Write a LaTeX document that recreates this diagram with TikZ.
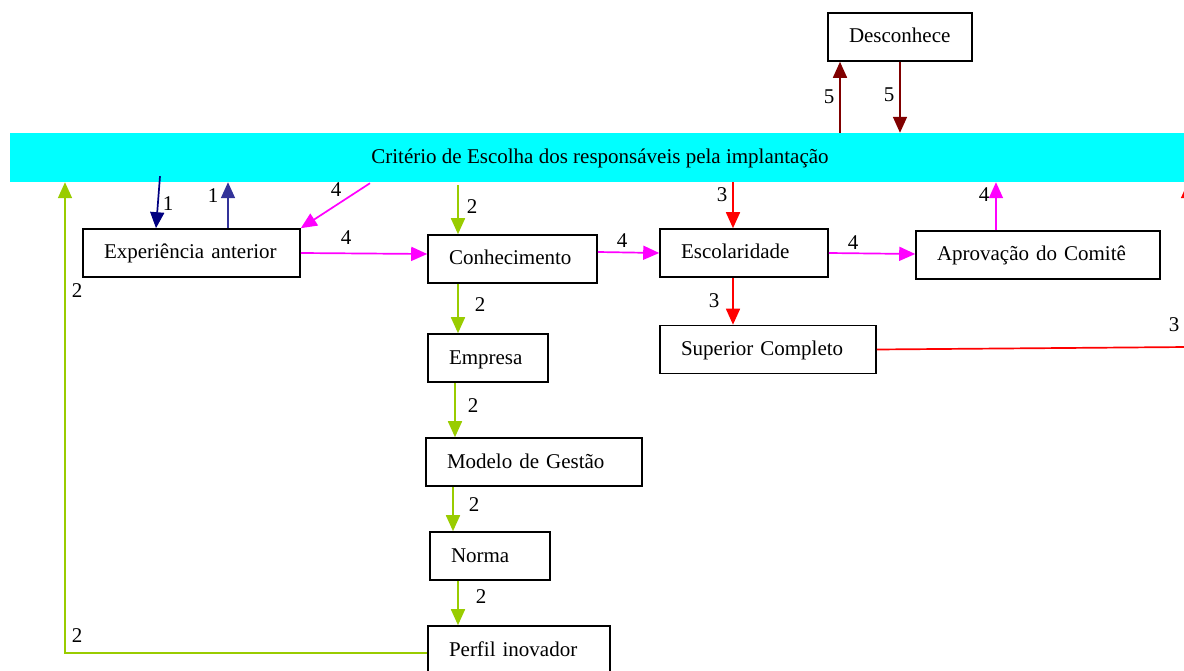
\documentclass[tikz,border=0pt]{standalone}
\usepackage{fontspec}
\setmainfont{Liberation Serif}
\usetikzlibrary{arrows.meta,calc}
\definecolor{cyanb}{HTML}{00FFFF}
\definecolor{navyc}{HTML}{000080}
\definecolor{bluec}{HTML}{333399}
\definecolor{magc}{HTML}{FF00FF}
\definecolor{grc}{HTML}{99CC00}
\definecolor{redc}{HTML}{FF0000}
\definecolor{drc}{HTML}{800000}
\tikzset{
  box/.style={draw=black, line width=1.6pt, fill=white, minimum height=48pt,
    inner xsep=21pt, inner ysep=0pt, align=left, text height=16pt, text depth=4pt,
    font=\fontsize{21}{25}\selectfont},
  lbl/.style={inner sep=0pt, font=\fontsize{21}{25}\selectfont},
  edge/.style={line width=1.7pt, -{Triangle[length=16pt,width=14pt]}},
  plain/.style={line width=1.7pt}
}
\begin{document}
\begin{tikzpicture}[x=1pt,y=-1pt]
\useasboundingbox (0,0) rectangle (1184,671);
\clip (0,0) rectangle (1184,671);
% banner
\node[fill=cyanb, minimum width=1180pt, minimum height=49pt, inner sep=0pt,
  text height=16pt, text depth=4pt, font=\fontsize{21}{25}\selectfont]
  (crit) at (600,157.5) {Critério de Escolha dos responsáveis pela implantação};
% boxes
\node[box, text width=102pt] (des) at (900,37) {Desconhece};
\node[box, text width=175pt] (exp) at (191.5,253) {Experiência anterior};
\node[box, text width=127pt] (con) at (512.5,259) {Conhecimento};
\node[box, text width=126pt] (esc) at (744,253) {Escolaridade};
\node[box, text width=202pt] (apr) at (1038,255) {Aprovação do Comitê};
\node[box, text width=174pt] (sup) at (768,349.5) {Superior Completo};
\node[box, text width=78pt] (emp) at (488,358) {Empresa};
\node[box, text width=174pt] (mod) at (534,462) {Modelo de Gestão};
\node[box, text width=78pt] (nor) at (490,556) {Norma};
\node[box, text width=140pt] (per) at (519,650) {Perfil inovador};
\coordinate (rc) at (1188,347);
\coordinate (gc) at (65,653);
% dark red
\draw[edge, drc] (crit.north -| 840,0) -- (des.south -| 840,0) node[lbl, black] at (829,97) {5};
\draw[edge, drc] (des.south -| 900,0) -- (crit.north -| 900,0) node[lbl, black] at (889,95) {5};
% experiencia
\draw[edge, navyc] ([yshift=6pt]crit.south -| 160,0) -- (exp.north -| 156,0) node[lbl, black] at (168,204) {1};
\draw[edge, bluec] (exp.north -| 228,0) -- (crit.south -| 228,0) node[lbl, black] at (213,196) {1};
\draw[edge, magc] ([yshift=-1pt]crit.south -| 370,0) -- (exp.north east) node[lbl, black] at (336,190) {4};
\draw[edge, magc] (exp.east) -- (con.west |- 0,254) node[lbl, black] at (346,238) {4};
% conhecimento chain
\draw[edge, grc] ([yshift=-3pt]crit.south -| 458,0) -- (con.north -| 458,0) node[lbl, black] at (472,207) {2};
\draw[edge, grc] (con.south -| 458,0) -- (emp.north -| 458,0) node[lbl, black] at (480,305) {2};
\draw[edge, grc] (emp.south -| 455,0) -- (mod.north -| 455,0) node[lbl, black] at (473,406) {2};
\draw[edge, grc] (mod.south -| 453,0) -- (nor.north -| 453,0) node[lbl, black] at (474,505) {2};
\draw[edge, grc] (nor.south -| 458,0) -- (per.north -| 458,0) node[lbl, black] at (481,597) {2};
\draw[edge, grc] (per.west |- gc) -- (gc) -- (crit.south -| gc)
  node[lbl, black] at (77,291) {2} node[lbl, black] at (77,636) {2};
% escolaridade
\draw[edge, magc] (con.east |- 0,252) -- (esc.west) node[lbl, black] at (622,241) {4};
\draw[edge, redc] (crit.south -| 733,0) -- (esc.north -| 733,0) node[lbl, black] at (722,195) {3};
\draw[edge, magc] (esc.east) -- (apr.west |- 0,254) node[lbl, black] at (853,243) {4};
\draw[edge, magc] (apr.north -| 996,0) -- (crit.south -| 996,0) node[lbl, black] at (984,195) {4};
\draw[edge, redc] (esc.south -| 733,0) -- (sup.north -| 733,0) node[lbl, black] at (714,301) {3};
\draw[edge, redc] (sup.east) -- (rc) -- (crit.south -| rc) node[lbl, black] at (1174,325) {3};
\end{tikzpicture}
\end{document}
